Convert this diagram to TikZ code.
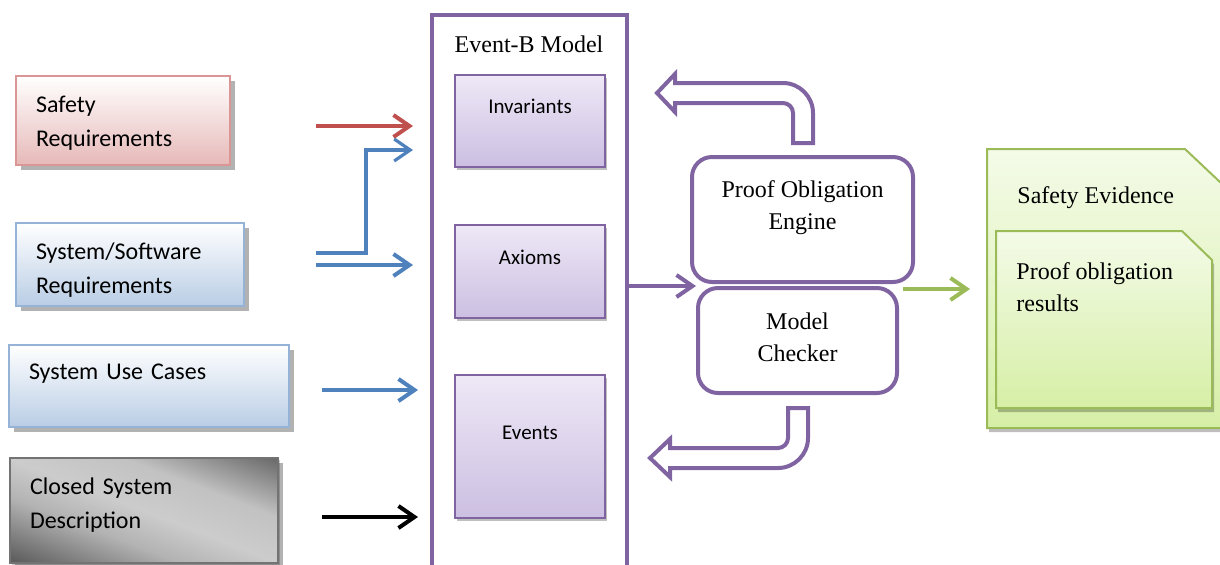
\documentclass[tikz,border=0pt]{standalone}
\usepackage{fontspec}
\setmainfont{Liberation Serif}
\setsansfont{Carlito}
\usetikzlibrary{arrows.meta,positioning,shadows}

\definecolor{redline}{HTML}{C0504D}
\definecolor{blueline}{HTML}{4F81BD}
\definecolor{purpleline}{HTML}{8064A2}
\definecolor{greenline}{HTML}{9BBB59}
\definecolor{pinkborder}{HTML}{D99694}
\definecolor{pinkfill}{HTML}{E6B9B8}
\definecolor{blueborder}{HTML}{95B3D7}
\definecolor{bluefill}{HTML}{B9CDE5}
\definecolor{lilactop}{HTML}{EEE8F6}
\definecolor{lilacbottom}{HTML}{CCBFE2}
\definecolor{greentop}{HTML}{F4FBE8}
\definecolor{greenbottom}{HTML}{D6EFA6}

\pgfdeclarehorizontalshading{closedshade}{100bp}{color(0bp)=(black!75); color(17bp)=(black!66); color(38bp)=(black!30); color(50bp)=(black!20); color(64bp)=(black!24); color(84bp)=(black!62); color(100bp)=(black!75)}

\begin{document}
\begin{tikzpicture}[x=0.5pt,y=-0.5pt]
			% \usetikzlibrary{arrows.meta,positioning,shadows}
			\tikzstyle{req} = [rectangle, draw, line width=1pt, align=left, inner xsep=10pt, font=\sffamily\fontsize{12}{17}\selectfont, drop shadow={shadow xshift=2.5pt, shadow yshift=-2.5pt, fill=black, opacity=0.3}]
			\tikzstyle{part} = [rectangle, draw=purpleline, line width=1pt, top color=lilactop, bottom color=lilacbottom, minimum width=75pt, font=\sffamily\fontsize{10.5}{13}\selectfont, text height=7.5pt, text depth=15pt, drop shadow={shadow xshift=1pt, shadow yshift=-1.5pt, fill=black, opacity=0.25}]
			\tikzstyle{tool} = [rectangle, rounded corners=10pt, draw=purpleline, line width=2pt, fill=white]
			\tikzstyle{paper} = [draw=greenline, line width=1pt, top color=greentop, bottom color=greenbottom, drop shadow={shadow xshift=1pt, shadow yshift=-2pt, fill=black, opacity=0.25}]
			\tikzstyle{sheet} = [rectangle, inner sep=0pt, outer sep=0pt]
			\tikzstyle{caption} = [inner sep=0pt, align=left, font=\fontsize{12}{16}\selectfont]
			\tikzstyle{arrow} = [line width=2pt, -{Straight Barb[length=8pt,width=11pt]}]
			\tikzstyle{uarrow} = [draw=purpleline, line width=2pt, fill=white, line join=miter]

			\useasboundingbox (0,0) rectangle (1220,564);

			\node [req, draw=pinkborder, top color=white, bottom color=pinkfill, text width=87pt, minimum height=44.5pt, text height=11pt, text depth=19.5pt] (safety) at (123,120.5) {Safety\\Requirements};
			\node [req, draw=blueborder, top color=white, bottom color=bluefill, text width=94pt, minimum height=41.5pt, text height=14pt, text depth=19.5pt] (syssw) at (130,264.5) {System/Software\\Requirements};
			\node [req, draw=blueborder, top color=white, bottom color=bluefill, text width=120pt, minimum height=41pt, text height=10pt, text depth=17pt] (usecases) at (149,386) {System Use Cases};
			\node [req, draw=black!55, shading=closedshade, shading angle=69, text width=114pt, minimum height=52.5pt, text height=9pt, text depth=25.5pt, drop shadow={shadow xshift=1pt, shadow yshift=-1pt, fill=black, opacity=0.2}] (closed) at (144,510.5) {Closed System\\Description};

			\node [rectangle, draw=purpleline, line width=2pt, minimum width=97.5pt, minimum height=285pt] (model) at (529.5,300) {};
			\node [caption] (modeltitle) at (529,44) {Event-B Model};
			\node [part, minimum height=46pt] (invariants) at (530,121) {Invariants};
			\node [part, minimum height=46.5pt] (axioms) at (530,271.5) {Axioms};
			\node [part, minimum height=71.5pt] (events) at (530,446.5) {Events};

			\node [tool, minimum width=110.5pt, minimum height=62.5pt] (engine) at (802.5,219.5) {};
			\node [caption, align=center] (enginetext) at (802.5,208) {Proof Obligation\\Engine};
			\node [tool, minimum width=99.5pt, minimum height=52.5pt] (checker) at (797.5,340.5) {};
			\node [caption, align=center] (checkertext) at (797.5,337.5) {Model\\Checker};

			\node [sheet, minimum width=117pt, minimum height=139.5pt] (evidence) at (1104,288.5) {};
			\path [paper] (evidence.south west) -- (evidence.north west) -- ([xshift=-18pt]evidence.north east) -- ([yshift=-17pt]evidence.north east) -- (evidence.south east) -- cycle;
			\node [caption, anchor=west] (evidencetext) at (1017,198) {Safety Evidence};
			\node [sheet, minimum width=108pt, minimum height=88.5pt] (results) at (1104,319.5) {};
			\path [paper] (results.south west) -- (results.north west) -- ([xshift=-15pt]results.north east) -- ([yshift=-14.5pt]results.north east) -- (results.south east) -- cycle;
			\node [caption, anchor=north west] (resultstext) at (1016,262) {Proof obligation\\results};

			\coordinate (safetyout) at (316,126);
			\coordinate (sworigin) at (316,253);
			\coordinate (swbend) at (366,150);
			\coordinate (swout) at (316,265);
			\coordinate (usecaseout) at (322,390);
			\coordinate (closedout) at (322,517);
			\coordinate (evidencein) at (903,289);

			\path[draw,arrow,redline,shorten >=8.5pt] (safetyout) -- (model.west |- safetyout);
			\path[draw,arrow,blueline,line width=1.6pt,shorten >=8.5pt] (sworigin) -| (swbend) -- (model.west |- swbend);
			\path[draw,arrow,blueline,shorten >=8.5pt] (swout) -- (model.west |- swout);
			\path[draw,arrow,blueline,shorten >=6pt] (usecaseout) -- (model.west |- usecaseout);
			\path[draw,arrow,black,shorten >=6pt] (closedout) -- (model.west |- closedout);
			\path[draw,arrow,purpleline] (model.east |- checker.north west) -- (checker.north west);
			\path[draw,arrow,greenline,shorten >=8.5pt] (evidencein) -- (evidence.west |- evidencein);

			\path[uarrow] (793,143) -- (813,143) -- (813,113) .. controls (813,96.5) and (799.5,83) .. (783,83) -- (675,83) -- (675,74) -- (657,93) -- (675,112) -- (675,103) -- (783,103) .. controls (788.5,103) and (793,107.5) .. (793,113) -- cycle;
			\path[uarrow] (788,408) -- (808,408) -- (808,438) .. controls (808,454.5) and (794.5,468) .. (778,468) -- (670,468) -- (670,477) -- (650,458) -- (670,439) -- (670,448) -- (778,448) .. controls (783.5,448) and (788,443.5) .. (788,438) -- cycle;
		\end{tikzpicture}
\end{document}
